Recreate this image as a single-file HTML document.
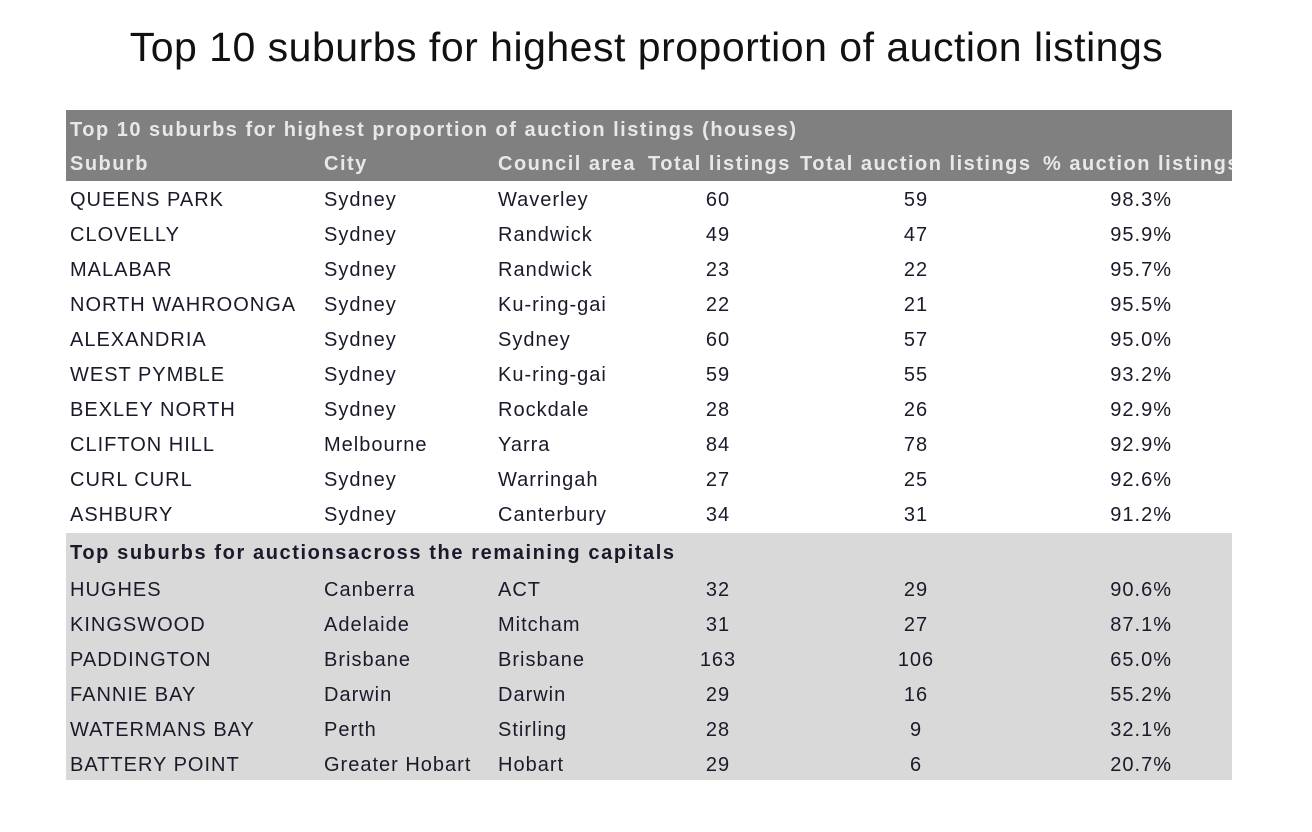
<!DOCTYPE html>
<html><head><meta charset="utf-8"><style>
body{margin:0;width:1312px;height:832px;background:#fff;position:relative;overflow:hidden;font-family:"Liberation Sans",sans-serif;}
#title{position:absolute;left:0;width:1293px;top:24px;text-align:center;font-size:41px;color:#111;letter-spacing:0.5px;}
#tbl{position:absolute;left:66px;top:110px;width:1166px;height:670px;overflow:hidden;}
.hdr{position:absolute;left:0;top:0;width:1166px;height:71px;background:#808080;}
.sec{position:absolute;left:0;top:423px;width:1166px;height:247px;background:#d9d9d9;}
.t{position:absolute;white-space:nowrap;font-size:20px;color:#1a1a2a;line-height:24px;letter-spacing:1px;}
.h{font-weight:bold;color:#e8e8e8;font-size:20px;letter-spacing:1.5px;}
.c{transform:translateX(-50%);}
.r{transform:translateX(-100%);}
</style></head><body>
<div id="title">Top 10 suburbs for highest proportion of auction listings</div>
<div id="tbl">
<div class="hdr"></div>
<div class="sec"></div>
</div>
<script>
const suburbs=["QUEENS PARK","CLOVELLY","MALABAR","NORTH WAHROONGA","ALEXANDRIA","WEST PYMBLE","BEXLEY NORTH","CLIFTON HILL","CURL CURL","ASHBURY","HUGHES","KINGSWOOD","PADDINGTON","FANNIE BAY","WATERMANS BAY","BATTERY POINT"];
const cities=["Sydney","Sydney","Sydney","Sydney","Sydney","Sydney","Sydney","Melbourne","Sydney","Sydney","Canberra","Adelaide","Brisbane","Darwin","Perth","Greater Hobart"];
const councils=["Waverley","Randwick","Randwick","Ku-ring-gai","Sydney","Ku-ring-gai","Rockdale","Yarra","Warringah","Canterbury","ACT","Mitcham","Brisbane","Darwin","Stirling","Hobart"];
const totals=[60,49,23,22,60,59,28,84,27,34,32,31,163,29,28,29];
const auctions=[59,47,22,21,57,55,26,78,25,31,29,27,106,16,9,6];
const pcts=["98.3%","95.9%","95.7%","95.5%","95.0%","93.2%","92.9%","92.9%","92.6%","91.2%","90.6%","87.1%","65.0%","55.2%","32.1%","20.7%"];
const tbl=document.getElementById('tbl');
function add(txt,x,y,cls,name){
  const d=document.createElement('div');
  d.className='t '+cls;
  d.textContent=txt;
  d.style.left=x+'px';d.style.top=(y-12)+'px';
  
  
  tbl.appendChild(d);
}
add("Top 10 suburbs for highest proportion of auction listings (houses)",4,20,'h','table-heading');
add("Suburb",4,54,'h','header-suburb');
add("City",258,54,'h','header-city');
add("Council area",432,54,'h','header-council-area');
add("Total listings",582,54,'h','header-total-listings');
add("Total auction listings",734,54,'h','header-total-auction-listings');
add("% auction listings",977,54,'h','header-pct-auction-listings');
add("Top suburbs for auctionsacross the remaining capitals",4,443,'','section-heading');
tbl.lastChild.style.fontWeight='bold';
tbl.lastChild.style.letterSpacing='1.6px';
for(let i=0;i<suburbs.length;i++){
  const y=i<10?90+i*35:480+(i-10)*35;
  add(suburbs[i],4,y,'','suburb-cell');
  add(cities[i],258,y,'','city-cell');
  add(councils[i],432,y,'','council-cell');
  add(String(totals[i]),652,y,'c','total-listings-cell');
  add(String(auctions[i]),850,y,'c','auction-listings-cell');
  add(pcts[i],1106,y,'r','pct-auction-cell');
}
</script>
</body></html>
